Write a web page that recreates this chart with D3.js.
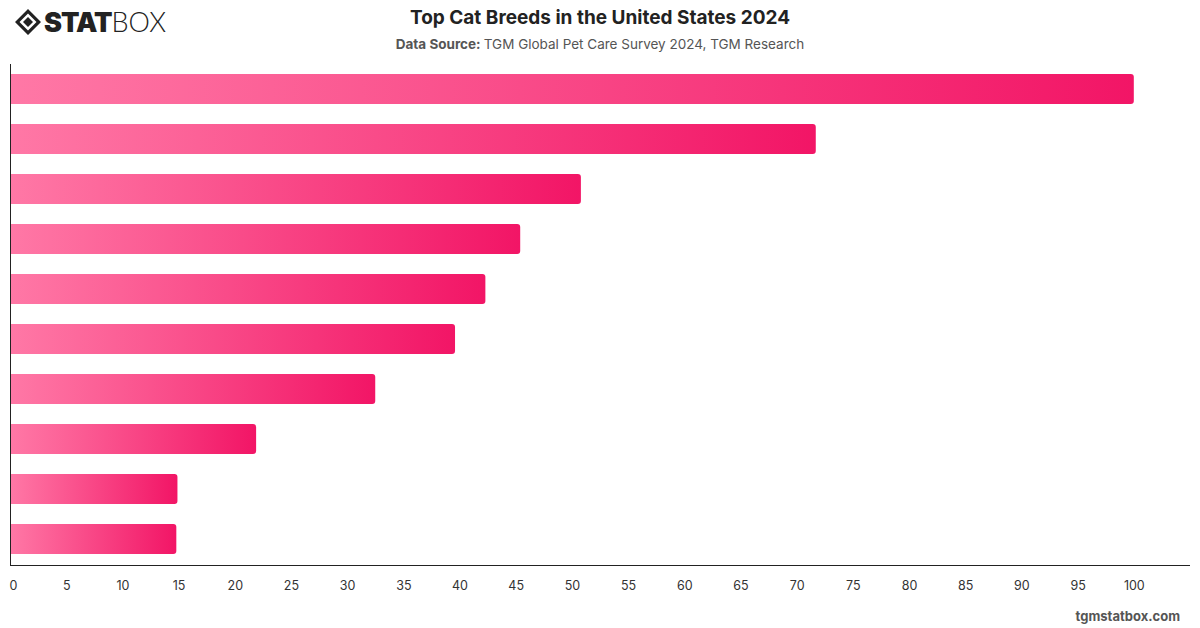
<!DOCTYPE html>
<meta charset="utf-8">
<style>
body { margin: 0; background: #fff; }
text { font-family: Inter, "Noto Sans", sans-serif; }
.tick text { fill: #333; font-size: 12.5px; }
</style>
<svg width="1200" height="628"></svg>
<script src="https://d3js.org/d3.v7.min.js"></script>
<script>

var ranks = ["1", "2", "3", "4", "5", "6", "7", "8", "9", "10"];
var shares = [100, 71.7, 50.8, 45.4, 42.3, 39.6, 32.5, 21.9, 14.9, 14.8];
var xTicks = d3.range(0, 101, 5);

var svg = d3.select("svg"),
    width = +svg.attr("width"),
    height = +svg.attr("height");

var plotLeft = 10, plotRight = 1190, plotTop = 64, plotBottom = 564;

var x = d3.scaleLinear().domain([0, 105]).range([plotLeft, plotRight]);
var y = d3.scaleBand().domain(ranks).range([plotTop, plotBottom]).paddingInner(0.4).paddingOuter(0.2);

var defs = svg.append("defs");
var grad = defs.append("linearGradient")
    .attr("id", "barGrad")
    .attr("x1", "0").attr("x2", "1").attr("y1", "0").attr("y2", "0");
grad.append("stop").attr("offset", "0%").attr("stop-color", "#ff78a6");
grad.append("stop").attr("offset", "100%").attr("stop-color", "#f21566");

// bars with rounded right end
svg.append("g")
  .selectAll("path")
  .data(shares)
  .enter().append("path")
    .attr("fill", "url(#barGrad)")
    .attr("d", function(d, i) {
      var x0 = x(0), x1 = x(d), y0 = y(ranks[i]), h = y.bandwidth(), r = 3;
      return "M" + x0 + "," + y0 +
        "H" + (x1 - r) +
        "Q" + x1 + "," + y0 + " " + x1 + "," + (y0 + r) +
        "V" + (y0 + h - r) +
        "Q" + x1 + "," + (y0 + h) + " " + (x1 - r) + "," + (y0 + h) +
        "H" + x0 + "Z";
    });

// axes
svg.append("line")
    .attr("x1", plotLeft + 0.5).attr("x2", plotLeft + 0.5).attr("y1", plotTop).attr("y2", plotBottom + 1)
    .attr("stroke", "#222").attr("stroke-width", 1);
svg.append("line")
    .attr("x1", plotLeft).attr("x2", plotRight).attr("y1", plotBottom + 1.5).attr("y2", plotBottom + 1.5)
    .attr("stroke", "#222").attr("stroke-width", 1);

var xAxis = svg.append("g")
    .attr("transform", "translate(0," + (plotBottom + 1) + ")")
    .call(d3.axisBottom(x).tickValues(xTicks).tickSize(0).tickPadding(16));
xAxis.select(".domain").remove();
xAxis.selectAll(".tick text").attr("dx", function(d) { return d === 0 ? 3 : 0; });

// title
svg.append("text")
    .attr("x", 600).attr("y", 24)
    .attr("text-anchor", "middle")
    .attr("font-size", 19).attr("font-weight", 700).attr("fill", "#222")
    .text("Top Cat Breeds in the United States 2024");

var sub = svg.append("text")
    .attr("x", 600).attr("y", 49)
    .attr("text-anchor", "middle")
    .attr("font-size", 13.5).attr("fill", "#555");
sub.append("tspan").attr("font-weight", 700).text("Data Source: ");
sub.append("tspan").text("TGM Global Pet Care Survey 2024, TGM Research");

svg.append("text")
    .attr("x", 1180).attr("y", 621)
    .attr("text-anchor", "end")
    .attr("font-size", 13).attr("font-weight", 700).attr("fill", "#555")
    .text("tgmstatbox.com");

// logo
var logo = svg.append("g").attr("transform", "translate(15,9)");
logo.append("path")
    .attr("d", "M13,0 L26,13 L13,26 L0,13 Z M13,4.5 L21.5,13 L13,21.5 L4.5,13 Z")
    .attr("fill", "#222").attr("fill-rule", "evenodd");
logo.append("path")
    .attr("d", "M13,8 L18,13 L13,18 L8,13 Z")
    .attr("fill", "#222");
var lt = logo.append("text")
    .attr("x", 29).attr("y", 23)
    .attr("font-size", 27).attr("fill", "#222")
    .attr("font-family", "'DejaVu Sans', sans-serif");
lt.append("tspan").attr("font-weight", 900).attr("letter-spacing", -1).text("STAT");
lt.append("tspan").attr("font-weight", 300).attr("font-family", "Lato, sans-serif").text("BOX");

</script>
